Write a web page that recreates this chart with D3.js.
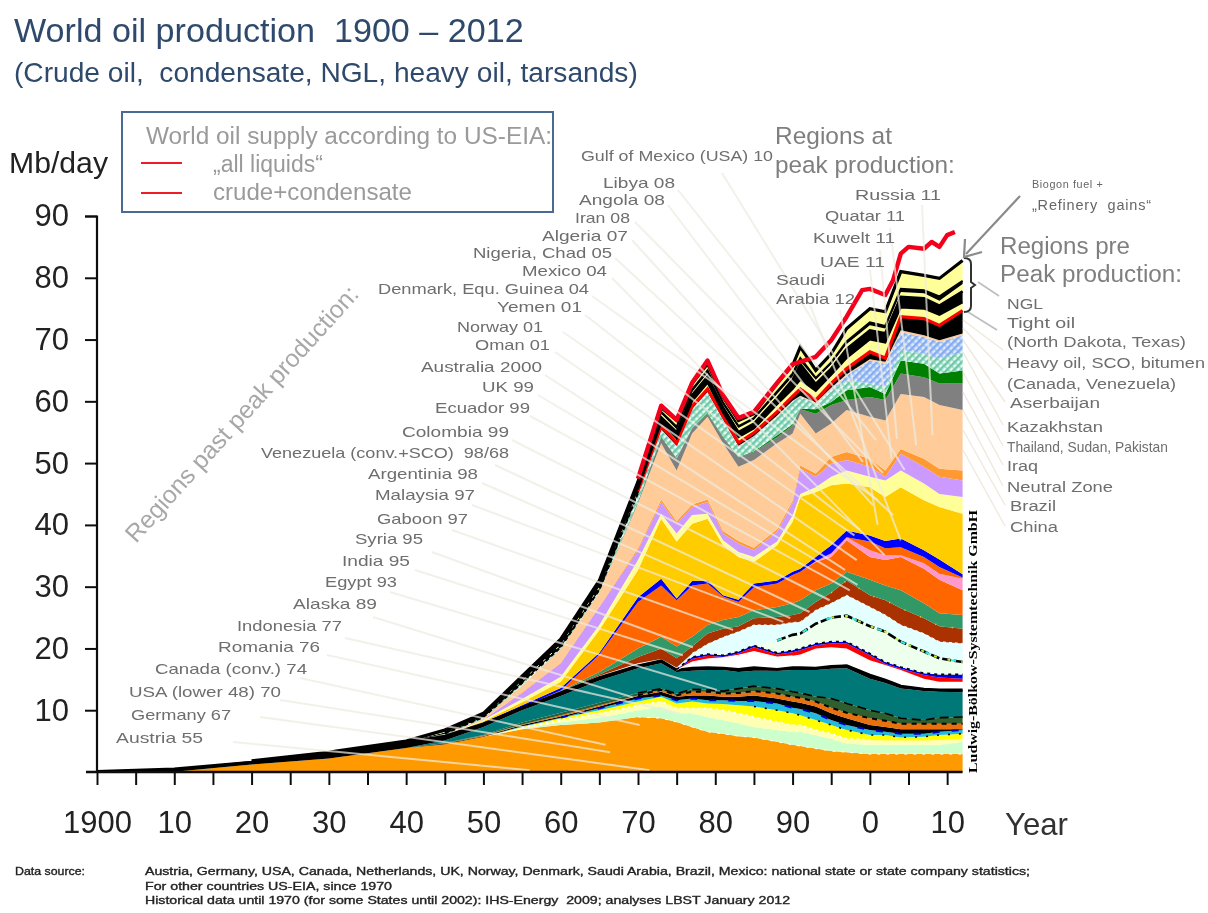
<!DOCTYPE html>
<html><head><meta charset="utf-8">
<script src="https://cdn.jsdelivr.net/npm/d3@7/dist/d3.min.js"></script>
<style>html,body{margin:0;padding:0;background:#fff}svg{display:block}text{font-family:"Liberation Sans",Arial,sans-serif}</style>
</head><body><div id="c"></div>
<script>
// ---------- DATA (cumulative tops of the stacked layers, Mb/day) ----------
const years=[1900,1910,1920,1930,1940,1945,1950,1955,1960,1965,1970,1973,1975,1977,1979,1981,1983,1985,1988,1990,1991,1993,1995,1997,2000,2002,2004,2007,2009,2012];
const usaLower48=[0,.05,1.2,2.2,3.9,4.5,5.7,6.9,7.6,8.0,8.9,8.7,8.1,7.3,6.5,6.2,5.8,5.6,4.9,4.4,4.2,3.8,3.4,3.2,2.9,2.9,2.9,2.9,2.9,2.9];
const canadaBand=[0,.05,1.2,2.2,3.9,4.5,5.7,7.0,8.0,8.8,10,10.6,9.5,9.5,8.9,8.4,7.9,7.3,6.8,6.5,6.5,6,5.4,4.6,4.4,4.4,4.4,4.4,4.4,4.9];
const germanyBand=[0,.05,1.2,2.2,3.9,4.5,5.7,7.2,8.4,9.5,10.8,11.4,10.3,10.3,10.3,10,9.5,8.9,8.1,7.6,7.6,6.8,6.2,5.4,5.2,5.1,5.1,5.1,5.2,5.4];
const romaniaBand=[0,.05,1.2,2.2,3.9,4.5,5.7,7.3,8.7,10,11.4,12.2,11.1,11.4,11.1,11,10.8,10.6,10,9.5,9.2,8.4,7.6,6.8,6,6,5.6,5.7,6,6.2];
const indonesiaBand=[0,.05,1.2,2.2,3.9,4.5,5.7,7.4,8.8,10.3,11.9,12.4,11.6,11.9,11.6,11.6,11.5,11.5,11.1,10.4,10.2,9.5,8.4,7.6,6.8,6.5,6.2,6.2,6.5,6.8];
const alaskaBand=[0,.05,1.2,2.2,3.9,4.6,5.8,7.6,9,10.6,12.3,13,12.2,12.4,12.4,12.2,12.2,12.4,11.9,11.4,11.2,10.6,9.5,8.7,7.6,7.3,6.9,6.9,6.9,6.9];
const egyptBand=[0,.05,1.2,2.2,3.9,4.6,5.9,7.7,9.2,10.8,12.4,13.3,12.4,13,13,12.7,12.8,13.1,12.7,12.2,12,11.4,10.4,9.6,8.7,8.3,7.8,7.8,7.8,7.8];
const indiaBand=[0,.05,1.2,2.2,3.9,4.7,6,8,9.6,11.2,12.8,13.5,12.7,13.4,13.3,13.1,13.5,13.9,13.5,13,12.8,12.2,11.9,11.1,10,9.5,8.7,8.4,8.8,8.9];
const venezuelaTeal=[0,.05,1.2,2.2,3.9,5.1,7.3,10,12.3,14.8,16.8,17.6,16.2,16.4,16.5,16.5,16.2,16.4,16.4,16.5,16.5,16.5,16.7,16.8,15.1,14.4,13.5,13.1,13,12.9];
const syriaBlack=[.1,.5,1.6,3.0,4.8,5.8,7.8,10.4,12.8,15.3,17.2,18,16.5,16.8,16.9,16.8,16.6,16.9,16.6,16.9,16.9,16.8,17.1,17.2,15.7,14.9,13.9,13.4,13.3,13.3];
const whiteBand=[.1,.5,1.6,3.0,4.8,5.8,7.8,10.4,12.8,15.3,17.3,18,16.5,17.8,18.3,18.5,18.9,19.5,18.6,18.8,19,20,20.2,20,18.1,17.3,16.5,15.1,14.6,14.6];
const gaboonRed=[.1,.5,1.6,3.0,4.8,5.8,7.8,10.4,12.8,15.3,17.3,18,16.5,18.3,18.8,18.6,19.2,20.2,19,19.4,19.7,20.5,20.8,20.8,18.9,17.5,16.7,15.7,15.3,15.1];
const colombiaBlue=[.1,.5,1.6,3.0,4.8,5.8,7.8,10.4,12.8,15.3,17.4,18.1,16.6,18.6,19.1,18.9,19.5,20.5,19.3,19.7,20,20.8,21.1,21.1,19.2,17.8,17,16,15.8,15.8];
const ukPaleGreen=[.1,.5,1.6,3.0,4.8,5.8,7.8,10.4,12.8,15.3,17.5,18.2,16.7,18.7,19.2,19,19.6,20.6,21.3,22.2,22.4,24,25,25.3,23.6,22.7,21.1,19.5,18.4,17.8];
const norwayCyan=[.1,.5,1.6,3.0,4.8,5.8,7.8,10.4,12.9,15.6,17.6,18.3,16.9,19.2,20.7,21.8,22.7,23.8,23.8,24.2,24.3,26.2,27.3,28.6,26.7,25.4,23.8,22.4,21.1,20.8];
const omanBrown=[.1,.5,1.6,3.0,4.8,5.8,7.8,10.4,13,15.8,18.6,20,18.4,20.3,22.4,23.2,23.6,24.9,25.1,25.4,25.7,27.5,29,31,28.6,27.8,26.5,24.9,23.6,23.2];
const australiaGreen=[.1,.5,1.6,3.0,4.8,5.8,7.8,10.4,13.1,16.2,20,21.9,20.3,21.9,23.8,24.6,25.1,26.2,26.7,27.3,27.8,29.4,30.5,32.4,31.1,30.2,29.4,27.3,25.7,25.4];
const mexicoOrange=[.1,.5,1.6,3.0,4.8,5.8,7.9,10.5,13.2,19,27.5,30.2,27.8,30.2,30.5,28.4,27.5,29.9,30.5,31.9,32.4,34,34.8,37.5,34.8,34.3,34.8,32.9,31.1,29.4];
const nigeriaPink=[.1,.5,1.6,3.0,4.8,5.8,7.9,10.5,13.2,19,27.5,30.2,27.8,30.2,30.5,28.4,27.5,29.9,30.5,31.9,32.4,34.1,35.4,38,35.9,35.1,35.1,33.8,32.1,31.3];
const algeriaOrange=[.1,.5,1.6,3.0,4.8,5.8,7.9,10.5,13.2,19,27.5,30.2,27.8,30.2,30.5,28.4,27.5,29.9,30.5,31.9,32.4,34.1,35.4,38,37.3,36.2,36.4,34.8,33.2,31.5];
const iranBlue=[.1,.5,1.6,3.0,4.8,5.8,8,10.8,13.6,19.3,28.3,31.3,28.1,30.9,31,28.6,27.9,30.5,31,32.4,32.9,34.8,36.7,39.1,38.3,37.4,37.8,35.9,34.4,32];
const libyaGold=[.1,.5,1.6,3.0,4.8,5.9,8.2,11.3,14.6,23,32.7,41,37.3,40.2,41,36.7,34.8,34,36.7,40.5,44.5,45.3,46.4,46.7,46.1,44.5,46.1,44,42.9,41.8];
const angolaPale=[.1,.5,1.6,3.0,4.8,5.9,8.4,11.8,15.4,23.8,34.3,41.8,38.6,41.6,41.8,37.5,35.6,34.8,37.3,41.5,45,46.1,47.8,48.8,47.8,47.2,48.8,46.7,45,44.5];
const gulfLilac=[.1,.5,1.6,3.0,4.8,5.9,8.5,12.8,17.6,26.7,35.9,43.7,40.2,42.9,43.7,38.6,37,35.9,38.9,43.5,49.1,47.8,49.9,50.5,49.4,47.8,51.5,49.4,47.8,47.2];
const kuwaitOrange=[.1,.5,1.6,3.0,4.8,5.9,8.5,12.9,17.7,26.8,36.2,44.1,40.6,43.3,44.1,39,37.4,36.3,39.3,43.9,49.6,48.3,51,51.8,50.7,48.8,52.3,50.7,49.1,48.8];
const saudiPeach=[.1,.5,1.6,3.0,4.8,6.0,8.7,14,19.9,29.1,43.5,53.2,48.8,54.8,57.5,53.2,49.4,50.5,53.2,54.8,58,54.8,56.4,58.6,57.5,56.9,61.2,60.7,59.4,58.6];
const russiaGrey=[.1,.5,1.6,3.0,4.8,6.0,8.7,14,19.9,29.1,43.7,54.2,50.7,55.6,58,54.2,50.9,51.8,54.2,56.1,58.7,58,59.4,60.2,60.7,60.2,64.5,63.9,62.9,62.9];
const chinaGreen=[.1,.5,1.6,3.0,4.8,6.0,8.7,14,19.9,29.1,43.8,54.3,50.8,55.7,58.1,54.3,51,51.9,54.5,56.3,58.8,58.7,59.9,61.8,62.3,61.2,66.6,66.1,64.5,65];
const brazilHatch=[.1,.5,1.6,3.0,4.8,6.2,8.9,14.4,20.2,29.5,45,55.3,52.6,58.6,61.3,56.9,52.6,54.2,57.5,59.9,60.7,59.6,61.8,63.4,62.9,62.3,68.3,67.7,66.9,68];
const iraqHatch=[.1,.5,1.6,3.0,4.8,6.2,8.9,14.4,20.2,29.5,45.1,55.4,52.7,58.7,61.4,57,52.7,54.3,57.6,60,60.8,59.7,62,64.2,66.6,66.1,71.2,70.4,69.6,70.7];
const heavyPeach=[.1,.5,1.6,3.0,4.8,6.2,8.9,14.4,20.2,29.5,45.2,55.5,52.8,58.8,61.5,57.1,52.8,54.4,57.7,60.1,60.9,59.8,62.2,64.4,66.8,66.4,71.5,70.7,69.9,71];
const tightBlack=[.1,.5,1.7,3.1,4.9,6.4,9.1,14.7,20.5,29.8,45.5,56,53.3,59.2,62,57.6,53.3,54.9,58.3,60.8,62,60.2,62.9,65.3,68,67,73.7,73.4,72.3,74.7];
const ngl1=[.1,.5,1.7,3.1,4.9,6.5,9.2,14.9,20.7,30.1,45.8,56.6,54,60,63,58.2,54.2,55.6,59.5,62,63.5,61.7,64.3,67,70,69.5,75.2,75,74,76];
const ngl2Black=[.1,.5,1.8,3.2,5,6.6,9.3,15.1,21,30.4,46.2,57.4,55,61,64,59,55,56.4,60.5,63.5,66,62.8,65.3,68.5,71.5,71,76.9,76.7,75.5,77.8];
const ngl3=[.1,.5,1.8,3.2,5,6.7,9.4,15.2,21.2,30.6,46.4,58,55.5,61.5,64.6,59.5,55.7,57,61.2,64,66.5,63.5,66,69.3,72.3,71.8,77.7,77.5,76.3,79];
const ngl4Black=[.1,.5,1.8,3.2,5,6.7,9.4,15.3,21.3,30.7,46.6,58.3,55.9,61.9,65,59.8,56,57.3,61.6,64.5,67,63.8,66.3,69.7,72.8,72.2,78.2,78,77,79.5];
const biogasTop=[.1,.5,1.8,3.2,5,6.8,9.5,15.5,21.5,31,47,59,56.9,62.9,66.1,60.7,56.9,58,62.9,65.8,68.8,65,67.7,71.8,75,74.5,81,80.4,79.9,82.8];
const liquidsYears=[1970,1973,1975,1977,1979,1981,1983,1985,1988,1990,1993,1995,1997,1999,2000,2002,2003,2004,2005,2007,2008,2009,2010,2011];
const allLiquids=[47.5,59.3,57,63,66.6,61,57.3,58.3,63,66,67.2,69.9,73.7,78,78.2,77.2,79.6,83.9,85,84.7,85.8,85,86.9,87.4];
const layerNames=["usaLower48","canadaBand","germanyBand","romaniaBand","indonesiaBand","alaskaBand","egyptBand","indiaBand","venezuelaTeal","syriaBlack","whiteBand","gaboonRed","colombiaBlue","ukPaleGreen","norwayCyan","omanBrown","australiaGreen","mexicoOrange","nigeriaPink","algeriaOrange","iranBlue","libyaGold","angolaPale","gulfLilac","kuwaitOrange","saudiPeach","russiaGrey","chinaGreen","brazilHatch","iraqHatch","heavyPeach","tightBlack","ngl1","ngl2Black","ngl3","ngl4Black","biogasTop"];
const layerValues=[usaLower48,canadaBand,germanyBand,romaniaBand,indonesiaBand,alaskaBand,egyptBand,indiaBand,venezuelaTeal,syriaBlack,whiteBand,gaboonRed,colombiaBlue,ukPaleGreen,norwayCyan,omanBrown,australiaGreen,mexicoOrange,nigeriaPink,algeriaOrange,iranBlue,libyaGold,angolaPale,gulfLilac,kuwaitOrange,saudiPeach,russiaGrey,chinaGreen,brazilHatch,iraqHatch,heavyPeach,tightBlack,ngl1,ngl2Black,ngl3,ngl4Black,biogasTop];
const layerColors=["#FF9900","#CCFFCC","#FFFFB3","#FFFF00","#22BBDD","#000000","#E87010","#2F5F2F","#007878","#000000","#FFFFFF","#FF0000","#0000EE","#EEFFEE","#E4FFFF","#A93300","#339966","#FF6600","#FF99CC","#FF6600","#0000FF","#FFCC00","#FFFF99","#CC99FF","#FF9933","#FFCC99","#808080","#008000","url(#hatchGreen)","url(#hatchBlue)","#FFCC99","#000000","#FFFF99","#000000","#FFFF99","#000000","#FFFF99"];
const xTickYears=d3.range(1900,2011,5);
const xLabelText={1900:"1900",1910:"10",1920:"20",1930:"30",1940:"40",1950:"50",1960:"60",1970:"70",1980:"80",1990:"90",2000:"0",2010:"10"};
const yTickValues=[10,20,30,40,50,60,70,80,90];

// ---------- ANNOTATIONS: label text, left, right, mid-line, leader start, leader end in [year, Mb/day] ----------
const peakLabels=[
["Gulf of Mexico (USA) 10",581,773,155,722,173,2004.5,48.9],["Libya 08",603,675,182.5,678,190,2000.8,53.7],["Angola 08",579,665,199,668,205,1999.1,50.2],["Iran 08",575,630,217.5,635,222,2001.7,48.4],["Algeria 07",542,628,235,632,240,2000.4,43.2],["Nigeria, Chad 05",473,612,252,615,258,2003,41.6],["Mexico 04",522,607,270,612,278,2001.9,35.1],["Denmark, Equ. Guinea 04",378,589,288.5,592,296,2001,44],["Yemen 01",497,582,306,585,315,1998.7,39.2],["Norway 01",457,543,326,563,332,1998,38.3],["Oman 01",475,550,344,555,352,1998.3,34.3],["Australia 2000",421,542,366,545,375,1996.8,32.7],["UK 99",482,534,386,538,395,1998.4,30.3],["Ecuador 99",435,530,407,530,416,1997.4,29.4],["Colombia 99",402,509,431,512,440,1994.8,27.8],["Venezuela (conv.+SCO)  98/68",261,509,452,495,465,1992.2,25.9],["Argentinia 98",368,478,473,482,483,1989.7,24.9],["Malaysia 97",375,475,494,472,505,1988.8,24.3],["Gaboon 97",377,468,518,452,530,1982.3,23],["Syria 95",355,423,538,432,552,1977.1,20.2],["India 95",342,410,560,415,570,1975.8,18.9],["Egypt 93",325,397,581,390,592,1980.2,13.3],["Alaska 89",293,377,603,373,617,1969.3,12.1],["Indonesia 77",237,342,625,345,638,1975.4,9.5],["Romania 76",218,320,646,327,655,1970.2,7.6],["Canada (conv.) 74",155,307,668,300,678,1965.8,4.4],["USA (lower 48) 70",129,281,691,280,700,1966.4,3.2],["Germany 67",131,231,714,260,717,1971.5,.3],["Austria 55",116,203,737,233,742,1956,.3],
["Russia 11",855,941,194,922,205,2008.1,54.5],["Quatar 11",825,905,215,890,228,2006,52.9],["Kuwelt 11",813,895,237,880,250,2003.5,53.9],["UAE 11",820,885,261,870,270,2002.8,50.7],["Saudi",776,825,279,810,305,2004,37.5],["Arabia 12",776,855,298,840,310,2001,40]];
const preLabels=[["NGL",1007,1043,303,999,296,978,282],["Tight oil",1007,1075,322,997,330,968,312],["(North Dakota, Texas)",1007,1186,341,1003,350,963,320],["Heavy oil, SCO, bitumen",1007,1205,362,1003,370,963,328],["(Canada, Venezuela)",1007,1176,383],["Aserbaijan",1010,1100,402,1005,402,963,340],["Kazakhstan",1007,1103,426,1003,425,963,352],["Thailand, Sudan, Pakistan",1007,1168,446,1003,446,963,372],["Iraq",1007,1038,465,1003,465,963,392],["Neutral Zone",1007,1113,486,1003,486,963,410],["Brazil",1010,1056,505,1005,505,963,430],["China",1010,1058,526,1005,526,963,450]];

// ---------- DRAW ----------
const W=1208,H=913;
const x=d3.scaleLinear().domain([1900,2012]).range([97,962.6]);
const y=d3.scaleLinear().domain([0,90]).range([772,216]);
const svg=d3.select("#c").append("svg").attr("width",W).attr("height",H);
const defs=svg.append("defs");
const blur=(id,s)=>defs.append("filter").attr("id",id).attr("filterUnits","userSpaceOnUse").attr("x",0).attr("y",0).attr("width",W).attr("height",H).append("feGaussianBlur").attr("stdDeviation",s);
blur("soft",.62);
function hatch(id,bg,fg){const p=defs.append("pattern").attr("id",id).attr("width",5).attr("height",5).attr("patternUnits","userSpaceOnUse").attr("patternTransform","rotate(45)");
 p.append("rect").attr("width",5).attr("height",5).attr("fill",bg);
 p.append("rect").attr("width",2.5).attr("height",5).attr("fill",fg);
 p.append("rect").attr("width",5).attr("height",2).attr("fill",fg).attr("opacity",.5);}
hatch("hatchGreen","#E6FFF6","#70C8A8");hatch("hatchBlue","#DCEBFF","#86ACF0");

const root=svg.append("g").attr("filter","url(#soft)");
const chart=root.append("g");
layerValues.forEach((top,i)=>{
 const low=i?layerValues[i-1]:years.map(()=>0);
 chart.append("path").datum(years.map((yr,k)=>({yr,a:low[k],b:top[k]}))).attr("class",layerNames[i])
  .attr("fill",layerColors[i])
  .attr("d",d3.area().x(d=>x(d.yr)).y0(d=>y(d.a)).y1(d=>y(d.b)));
});
const topLine=(vals,col,w,dash,from=1900,to=2012)=>chart.append("path")
 .datum(years.map((yr,k)=>({yr,v:vals[k]})).filter(d=>d.yr>=from&&d.yr<=to))
 .attr("fill","none").attr("stroke",col).attr("stroke-width",w).attr("stroke-dasharray",dash||null)
 .attr("d",d3.line().x(d=>x(d.yr)).y(d=>y(d.v)));
topLine(germanyBand,"#fff",1.8,"2 4",1955,2000);
topLine(canadaBand,"#FFFFB3",1.4,"2 6",1965,2012);
topLine(indonesiaBand,"#0000CC",2,"7 12",1960,2012);
topLine(romaniaBand,"#000",1.6,"2 9",1985,2012);
topLine(egyptBand,"#000",2,"5 5",1970,2012);
topLine(indiaBand,"#000",1.6,"9 5",1970,2012);
topLine(syriaBlack,"#000",2.8,null,1900,2012);
topLine(whiteBand,"#fff",1,null,1975,1990);
topLine(colombiaBlue,"#000",1.6,"3 4",1975,2012);
topLine(ukPaleGreen,"#000",2.6,"9 3",1988,2012);
topLine(ukPaleGreen,"#33EEDD",2,"5 22",1988,2012);
topLine(ukPaleGreen,"#BBEE33",2,"3 11",1995,2012);
topLine(norwayCyan,"#fff",1,"3 3",1977,2012);
topLine(omanBrown,"#DDCC33",1.6,"1 16",1995,2012);
topLine(usaLower48,"#fff",1,"3 6",1970,2012);
topLine(tightBlack,"#FF0000",3.2,null,1970,2012);
topLine(heavyPeach,"#000",2,"4 3",1945,1970);
topLine(ngl1,"#000",2,null,1970,2012);
topLine(ngl2Black,"#000",2.6,null,1945,2012);
topLine(ngl4Black,"#000",2,null,1970,2012);
topLine(biogasTop,"#000",3.2,null,1915,2012);
topLine(tightBlack,"#000",2.6,"6 3",1945,1970);
chart.append("path").datum(liquidsYears.map((yr,k)=>({yr,v:allLiquids[k]})))
 .attr("fill","none").attr("stroke","#F2001A").attr("stroke-width",4.4).attr("stroke-linejoin","round")
 .attr("d",d3.line().x(d=>x(d.yr)).y(d=>y(d.v)));
// leader lines
const leaders=root.append("g");
peakLabels.forEach(l=>leaders.append("line").attr("x1",l[4]).attr("y1",l[5]).attr("x2",x(l[6])).attr("y2",y(l[7]))
 .attr("stroke","#EDEBE0").attr("stroke-width",2).attr("stroke-opacity",.72));
preLabels.filter(l=>l.length>4).forEach((l,i)=>leaders.append("line").attr("x1",l[4]).attr("y1",l[5]).attr("x2",l[6]).attr("y2",l[7])
 .attr("stroke",i<2?"#bdbdbd":"#F0E8DC").attr("stroke-width",i<2?1.6:1.4));

// axes
const axY=root.append("g").attr("transform","translate(97,0)").call(d3.axisLeft(y).tickValues(yTickValues).tickSize(12).tickPadding(16).tickFormat(d3.format("d")));
axY.select(".domain").attr("stroke","#111").attr("stroke-width",2.2).attr("d","M-12,216.5H0V772");
axY.selectAll(".tick line").attr("stroke","#111").attr("stroke-width",2);
axY.selectAll(".tick text").attr("fill","#222").style("font-size","31px").attr("font-family","Liberation Sans");
const axX=root.append("g").attr("transform","translate(0,772)").call(d3.axisBottom(x).tickValues(xTickYears).tickSize(13).tickPadding(26).tickFormat(d=>xLabelText[d]||""));
axX.select(".domain").attr("stroke","#111").attr("stroke-width",2.4).attr("d","M86,0H962.6");
axX.selectAll(".tick line").attr("stroke","#111").attr("stroke-width",2);
axX.selectAll(".tick text").attr("fill","#222").style("font-size","31px").attr("font-family","Liberation Sans");

// brace + arrow
const ink=root.append("g").attr("fill","none");
ink.append("path").attr("d","M964,258 q7,0 7,6 v18 l4,3 l-4,3 v18 q0,6 -7,6").attr("stroke","#333").attr("stroke-width",2);
ink.append("line").attr("x1",1020).attr("y1",196).attr("x2",966).attr("y2",254).attr("stroke","#8a8a8a").attr("stroke-width",2.2);
ink.append("path").attr("d","M965,239 L964,257 L982,252").attr("stroke","#8a8a8a").attr("stroke-width",2.2);

// texts: each one spans the given width; a cap keeps dense labels from colliding
const T=(s,xx,yy,width,col,extra={},base=20,cap=99,family=null)=>{
 const t=root.append("text").attr("x",xx).attr("y",yy).attr("xml:space","preserve").style("white-space","pre").text(s).attr("fill",col).style("font-size",base+"px");
 if(family)t.style("font-family",family);
 Object.entries(extra).forEach(([k,v])=>t.attr(k,v));
 const w=t.node().getComputedTextLength();
 const fit=base*width/w;
 if(fit>cap){t.style("font-size",cap+"px").attr("textLength",width).attr("lengthAdjust","spacingAndGlyphs");}
 else t.style("font-size",fit.toFixed(2)+"px");
 return t;};
T("World oil production  1900 – 2012",14,42,510,"#2E4A6C");
T("(Crude oil,  condensate, NGL, heavy oil, tarsands)",14,82,624,"#2E4A6C");
T("Mb/day",9,173,99,"#222");
T("Year",1005,835,63,"#333");
root.append("rect").attr("x",122).attr("y",112).attr("width",431).attr("height",100).attr("fill","none").attr("stroke","#4A6A95").attr("stroke-width",2);
T("World oil supply according to US-EIA:",146,144,406,"#9A9A9A");
T("„all liquids“",213,172,110,"#9A9A9A");
T("crude+condensate",213,200,199,"#9A9A9A");
[163,193].forEach(v=>root.append("line").attr("x1",141).attr("x2",182).attr("y1",v).attr("y2",v).attr("stroke","#EE1C25").attr("stroke-width",2));
T("Regions past peak production:",0,0,335,"#A8A8A8",{transform:"translate(136,544) rotate(-48)"});
T("Regions at",775,144,117,"#7F7F7F");
T("peak production:",775,173,180,"#7F7F7F");
T("Regions pre",1000,254,130,"#7F7F7F");
T("Peak production:",1000,282,182,"#7F7F7F");
T("Biogon fuel +",1032,188,72,"#666",{"letter-spacing":".6"},10);
T("„Refinery  gains“",1032,210,126,"#666",{"letter-spacing":".8"},10);
peakLabels.forEach(l=>T(l[0],l[1],l[3]+5.5,l[2]-l[1],"#6E6E6E",{},14,14.5));
preLabels.forEach(l=>T(l[0],l[1],l[3]+5.5,l[2]-l[1],"#6E6E6E",{},14,15.5));
T("Ludwig-Bölkow-Systemtechnik GmbH",0,0,263,"#000",{transform:"translate(977,773) rotate(-90)","font-weight":"bold"},12,12.5,"Liberation Serif");
const foot=(s,xx,yy,len)=>T(s,xx,yy,len,"#222",{stroke:"#222","stroke-width":.35},10,11);
foot("Data source:",15,875,70);
foot("Austria, Germany, USA, Canada, Netherlands, UK, Norway, Denmark, Saudi Arabia, Brazil, Mexico: national state or state company statistics;",145,875,885);
foot("For other countries US-EIA, since 1970",145,890,247);
foot("Historical data until 1970 (for some States until 2002): IHS-Energy  2009; analyses LBST January 2012",145,904,645);
</script></body></html>
